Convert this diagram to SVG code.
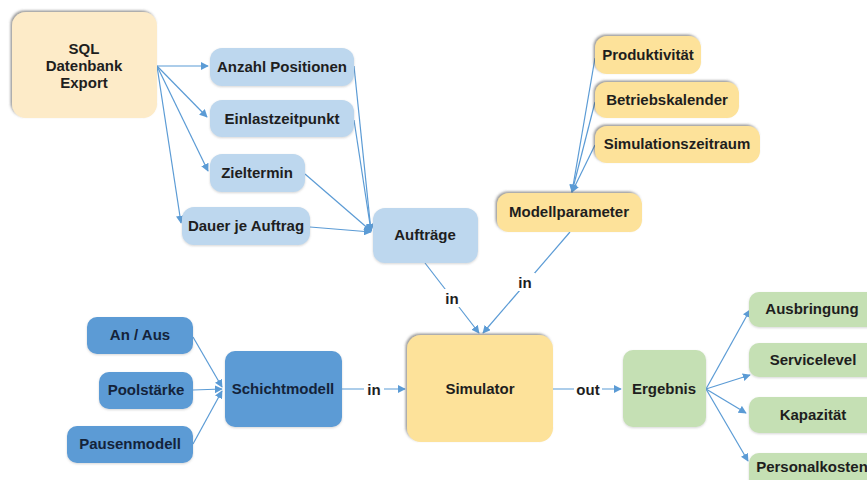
<svg xmlns="http://www.w3.org/2000/svg" width="867" height="480" viewBox="0 0 867 480">
<defs>
<style>
text{font-family:"Liberation Sans",Arial,sans-serif;font-weight:bold;font-size:15px;fill:#1e1e1e;text-anchor:middle;dominant-baseline:central}
.sql{fill:#FDEBC8}
.yel{fill:#FDE29A}
.lb{fill:#BDD7EE}
.db{fill:#5B9BD5}
.db-t{fill:#14233a}
.gr{fill:#C5E0B4}
.edge{fill:none;stroke:#5B9BD5;stroke-width:1.2}
.lbl{fill:#fff}
</style>
<filter id="sh" x="-10%" y="-10%" width="120%" height="120%">
<feDropShadow dx="-1.5" dy="-1.5" stdDeviation="1.2" flood-color="#555" flood-opacity="0.6"/>
</filter>
<filter id="sh2" x="-10%" y="-10%" width="120%" height="125%">
<feDropShadow dx="0" dy="1" stdDeviation="1" flood-color="#888" flood-opacity="0.35"/>
</filter>
<marker id="ar" viewBox="0 0 10 10" refX="9" refY="5" markerWidth="8" markerHeight="8" markerUnits="userSpaceOnUse" orient="auto">
<path d="M0,0 L10,5 L0,10 z" fill="#5B9BD5"/>
</marker>
</defs>
<rect width="867" height="480" fill="#fff"/>

<g id="connectors">
<path class="edge" d="M157,66 L208,66" marker-end="url(#ar)"/>
<path class="edge" d="M157,66 L207,117" marker-end="url(#ar)"/>
<path class="edge" d="M157,66 L208,171" marker-end="url(#ar)"/>
<path class="edge" d="M157,66 L181,223" marker-end="url(#ar)"/>
<path class="edge" d="M354,66 L371,231" marker-end="url(#ar)"/>
<path class="edge" d="M354,120 L371,231" marker-end="url(#ar)"/>
<path class="edge" d="M305,174 L371,231" marker-end="url(#ar)"/>
<path class="edge" d="M310,227 L371,232" marker-end="url(#ar)"/>
<path class="edge" d="M595,58 L572,192" marker-end="url(#ar)"/>
<path class="edge" d="M595,102 L572,192" marker-end="url(#ar)"/>
<path class="edge" d="M595,145 L572,192" marker-end="url(#ar)"/>
<path class="edge" d="M425,263 L479,333" marker-end="url(#ar)"/>
<path class="edge" d="M570,232 L483,333" marker-end="url(#ar)"/>
<path class="edge" d="M342,389 L405,389" marker-end="url(#ar)"/>
<path class="edge" d="M553,389 L621,389" marker-end="url(#ar)"/>
<path class="edge" d="M706,389 L750,310" marker-end="url(#ar)"/>
<path class="edge" d="M706,389 L750,375" marker-end="url(#ar)"/>
<path class="edge" d="M706,389 L746,413" marker-end="url(#ar)"/>
<path class="edge" d="M706,389 L748,461" marker-end="url(#ar)"/>
<path class="edge" d="M193,337 L222,387" marker-end="url(#ar)"/>
<path class="edge" d="M193,390 L222,389" marker-end="url(#ar)"/>
<path class="edge" d="M193,444 L222,391" marker-end="url(#ar)"/>
<rect class="lbl" x="442" y="289" width="20" height="18"/>
<text x="452" y="298">in</text>
<rect class="lbl" x="515" y="273" width="20" height="18"/>
<text x="525" y="282">in</text>
<rect class="lbl" x="364" y="380" width="20" height="18"/>
<text x="374" y="389">in</text>
<rect class="lbl" x="574" y="380" width="28" height="18"/>
<text x="588" y="389">out</text>
</g>

<g id="sql"><rect class="sql" x="12" y="12" width="145" height="106" rx="14" filter="url(#sh)"/><text x="84" y="48">SQL</text><text x="84" y="65">Datenbank</text><text x="84" y="82">Export</text></g>
<g id="anzahl"><rect class="lb" x="210" y="48" width="144" height="38" rx="12" filter="url(#sh2)"/><text x="282" y="66">Anzahl Positionen</text></g>
<g id="einlast"><rect class="lb" x="210" y="100" width="144" height="37" rx="12" filter="url(#sh2)"/><text x="282" y="118">Einlastzeitpunkt</text></g>
<g id="zieltermin"><rect class="lb" x="210" y="154" width="95" height="38" rx="12" filter="url(#sh2)"/><text x="257" y="172">Zieltermin</text></g>
<g id="dauer"><rect class="lb" x="182" y="207" width="128" height="38" rx="12" filter="url(#sh2)"/><text x="246" y="225">Dauer je Auftrag</text></g>
<g id="auftraege"><rect class="lb" x="373" y="208" width="105" height="55" rx="12" filter="url(#sh2)"/><text x="425" y="234">Aufträge</text></g>

<g id="produktivitaet"><rect class="yel" x="595" y="36" width="106" height="38" rx="12" filter="url(#sh)"/><text x="648" y="54">Produktivität</text></g>
<g id="betriebskalender"><rect class="yel" x="595" y="82" width="144" height="36" rx="12" filter="url(#sh)"/><text x="667" y="99">Betriebskalender</text></g>
<g id="simzeitraum"><rect class="yel" x="595" y="126" width="165" height="37" rx="12" filter="url(#sh)"/><text x="677" y="143">Simulationszeitraum</text></g>
<g id="modellparameter"><rect class="yel" x="497" y="193" width="145" height="39" rx="12" filter="url(#sh)"/><text x="569" y="211">Modellparameter</text></g>

<g id="simulator"><rect class="yel" x="407" y="335" width="146" height="107" rx="14" filter="url(#sh)"/><text x="480" y="388">Simulator</text></g>

<g id="ergebnis"><rect class="gr" x="623" y="350" width="83" height="77" rx="10" filter="url(#sh2)"/><text x="664" y="388">Ergebnis</text></g>
<g id="ausbringung"><rect class="gr" x="749" y="292" width="130" height="35" rx="10" filter="url(#sh2)"/><text x="812" y="308">Ausbringung</text></g>
<g id="servicelevel"><rect class="gr" x="749" y="343" width="130" height="34" rx="10" filter="url(#sh2)"/><text x="813" y="359">Servicelevel</text></g>
<g id="kapazitaet"><rect class="gr" x="749" y="397" width="130" height="36" rx="10" filter="url(#sh2)"/><text x="813" y="414">Kapazität</text></g>
<g id="personalkosten"><rect class="gr" x="749" y="453" width="130" height="40" rx="10" filter="url(#sh2)"/><text x="812" y="466">Personalkosten</text></g>

<g id="anaus"><rect class="db" x="87" y="317" width="106" height="37" rx="10" filter="url(#sh2)"/><text class="db-t" x="140" y="334">An / Aus</text></g>
<g id="poolstaerke"><rect class="db" x="99" y="372" width="94" height="37" rx="10" filter="url(#sh2)"/><text class="db-t" x="146" y="389">Poolstärke</text></g>
<g id="pausenmodell"><rect class="db" x="67" y="426" width="126" height="37" rx="10" filter="url(#sh2)"/><text class="db-t" x="130" y="443">Pausenmodell</text></g>
<g id="schichtmodell"><rect class="db" x="225" y="351" width="117" height="76" rx="10" filter="url(#sh2)"/><text class="db-t" x="283" y="388">Schichtmodell</text></g>
</svg>
